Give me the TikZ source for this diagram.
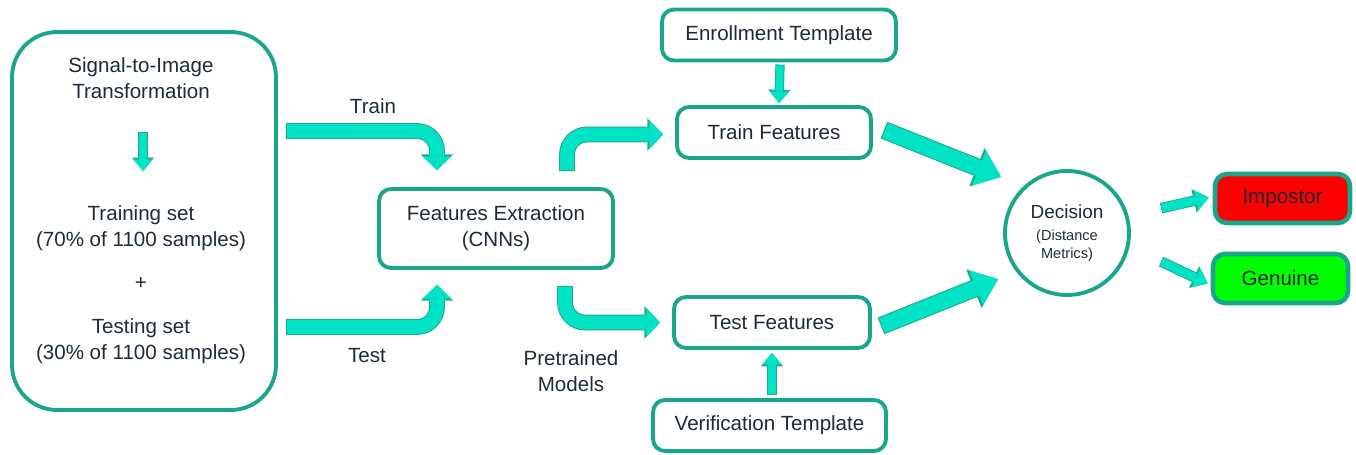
\documentclass[tikz,border=0pt]{standalone}
\usepackage{fontspec}
\setmainfont{Liberation Sans}
\usepackage{tikz}
\usetikzlibrary{positioning}
\usetikzlibrary{arrows.meta}
\usepackage{xcolor}
\definecolor{boxedge}{HTML}{19A78C}
\definecolor{arrowfill}{HTML}{00E3C4}
\definecolor{arrowedge}{HTML}{20A890}
\definecolor{textcol}{HTML}{1E2B37}
\definecolor{impred}{HTML}{FF0000}
\definecolor{gengreen}{HTML}{00FF00}

\begin{document}
\begin{tikzpicture}[x=0.02cm, y=-0.02cm,
  every node/.style={font=\fontsize{11.7}{15}\selectfont, text=textcol},
  stage/.style={draw=boxedge, line width=2.2pt, rounded corners=0.24cm, fill=white, align=center, minimum height=1.02cm},
  bigarrow/.style={draw=arrowfill, line width=7.8pt, rounded corners=0.4cm, -{Triangle[width=16.5pt, length=7.8pt, line width=0pt]},
    preaction={draw=arrowedge, line width=9pt, shorten <=-0.6pt, -{Triangle[width=18.5pt, length=9pt, line width=0pt]}}},
  diagarrow/.style={draw=arrowfill, line width=9pt, -{Triangle[width=21.5pt, length=13.5pt, line width=0pt]},
    preaction={draw=arrowedge, line width=10.2pt, shorten <=-0.6pt, -{Triangle[width=23.5pt, length=14.8pt, line width=0pt]}}},
  smallarrow/.style={draw=arrowfill, line width=4.3pt, -{Triangle[width=11pt, length=6.5pt, line width=0pt]},
    preaction={draw=arrowedge, line width=5.3pt, shorten <=-0.5pt, -{Triangle[width=12.6pt, length=7.6pt, line width=0pt]}}},
  medarrow/.style={draw=arrowfill, line width=5pt, -{Triangle[width=12pt, length=7.5pt, line width=0pt]},
    preaction={draw=arrowedge, line width=6pt, shorten <=-0.5pt, -{Triangle[width=13.6pt, length=8.6pt, line width=0pt]}}},
]
\useasboundingbox (0,0) rectangle (1356,455);

% Data box
\node[draw=boxedge, line width=2.2pt, rounded corners=0.9cm, minimum width=5.28cm, minimum height=7.56cm] (data) at (144,221) {};
\node[align=center] (s2i) at (141,78) {Signal-to-Image\\Transformation};
\node[align=center] (trainset) at (141,228) {Training set\\(70\% of 1100 samples)};
\node (plus) at (141,284) {+};
\node[align=center] (testset) at (141,341) {Testing set\\(30\% of 1100 samples)};
\coordinate (s2iout) at (143,133);
\coordinate (setin) at (143,171);
\draw[smallarrow] (s2iout) -- (setin);

% Middle stages
\node[stage, minimum width=4.68cm, minimum height=1.58cm] (fe) at (496,228.5) {Features Extraction\\(CNNs)};
\node[stage, minimum width=4.68cm] (enroll) at (779,35) {Enrollment Template};
\node[stage, minimum width=3.88cm] (trainf) at (774,132.5) {Train Features};
\node[stage, minimum width=3.92cm] (testf) at (772,322.5) {Test Features};
\node[stage, minimum width=4.66cm] (verif) at (769.5,425.5) {Verification Template};

\node (trainlbl) at (373,106) {Train};
\node (testlbl) at (367,356) {Test};
\node[align=center] (pretrained) at (571,371) {Pretrained\\Models};

% Decision and outcomes
\node[draw=boxedge, line width=2.2pt, circle, minimum size=2.48cm, align=center] (decision) at (1067,233)
  {\fontsize{10.8}{13}\selectfont Decision\\[-2.5pt]\fontsize{8.3}{10}\selectfont(Distance\\[-4.5pt]\fontsize{8.3}{10}\selectfont Metrics)};
\node[stage, fill=impred, line width=2.6pt, minimum width=2.7cm, minimum height=0.98cm] (impostor) at (1282.5,198.5) {Impostor};
\node[stage, fill=gengreen, line width=2.6pt, minimum width=2.7cm, minimum height=0.98cm] (genuine) at (1280.5,278.5) {Genuine};

% Connectors
\draw[bigarrow] ([shift={(9,-90)}]data.east) -| ([shift={(-59,-17)}]fe.north);
\draw[bigarrow] ([shift={(9,106)}]data.east) -| ([shift={(-59,15)}]fe.south);
\draw[bigarrow] ([shift={(71,-17)}]fe.north) |- ([shift={(-12,2)}]trainf.west);
\draw[bigarrow] ([shift={(69,17)}]fe.south) |- ([shift={(-12,0)}]testf.west);
\draw[smallarrow] ([shift={(1,3)}]enroll.south) -- ([shift={(0,-2)}]enroll.south |- trainf.north);
\draw[smallarrow] ([shift={(0,-4)}]testf.south |- verif.north) -- ([shift={(0,3)}]testf.south);
\draw[diagarrow] ([shift={(12,-2)}]trainf.east) -- ([shift={(-17,-15)}]decision.140);
\draw[diagarrow] ([shift={(10,3)}]testf.east) -- ([shift={(-20,5)}]decision.220);
\draw[medarrow] ([shift={(31,-25)}]decision.east) -- ([shift={(-4,-1)}]impostor.west);
\draw[medarrow] ([shift={(31,29)}]decision.east) -- ([shift={(-3,5)}]genuine.west);
\end{tikzpicture}
\end{document}
